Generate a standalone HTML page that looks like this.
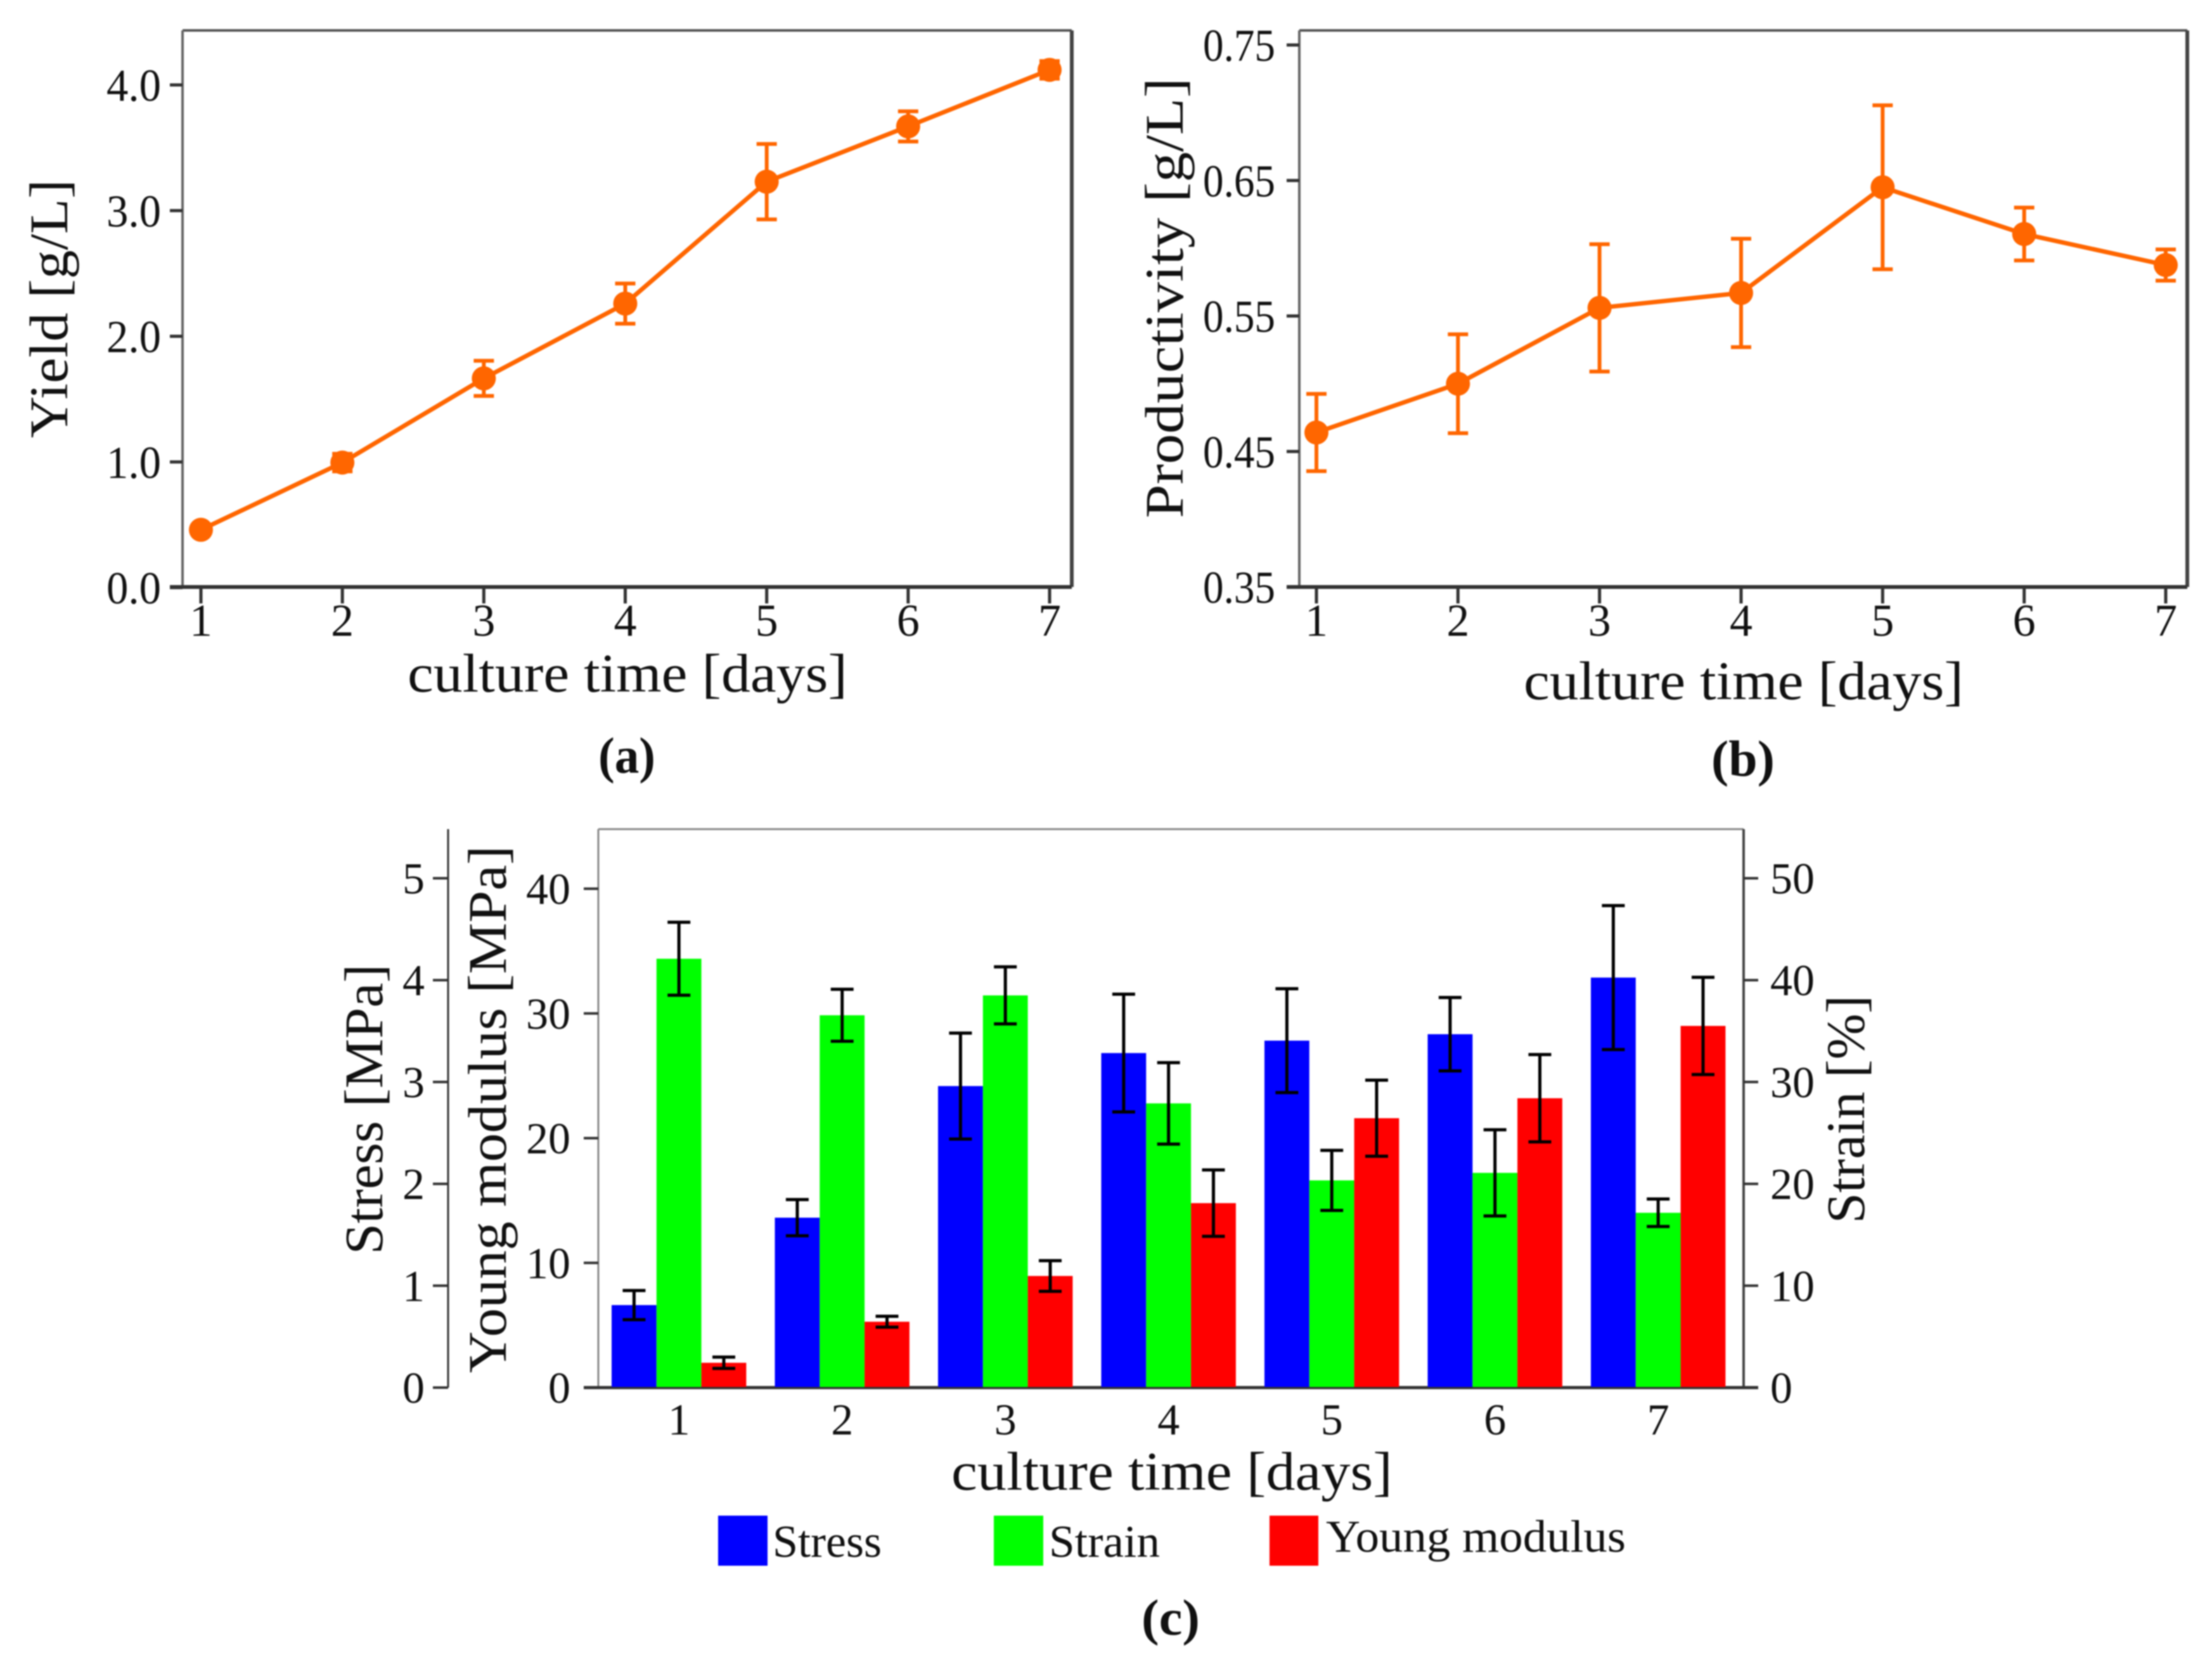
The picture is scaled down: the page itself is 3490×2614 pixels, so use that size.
<!DOCTYPE html>
<html lang="en">
<head>
<meta charset="utf-8">
<title>Culture time charts</title>
<style>
html,body{margin:0;padding:0;background:#fff;}
svg{display:block;filter:blur(1px);}
text{font-family:"Liberation Serif",serif;fill:#111;}
</style>
</head>
<body>
<svg id="figure" xmlns="http://www.w3.org/2000/svg" width="3490" height="2614" viewBox="0 0 3490 2614">
<rect x="0" y="0" width="3490" height="2614" fill="#fff"/>
<g id="panelA"></g>
<g id="panelB"></g>
<g id="panelC"></g>
</svg>
<script>
const days = [1, 2, 3, 4, 5, 6, 7];
const yieldValues = [0.46, 0.995, 1.665, 2.26, 3.23, 3.67, 4.12];
const yieldErrors = [0.03, 0.07, 0.14, 0.16, 0.30, 0.12, 0.07];
const yieldTicks = ["0.0", "1.0", "2.0", "3.0", "4.0"];
const prodValues = [0.464, 0.500, 0.556, 0.567, 0.645, 0.6105, 0.5876];
const prodErrors = [0.0285, 0.0365, 0.047, 0.040, 0.0605, 0.0195, 0.0115];
const prodTicks = ["0.35", "0.45", "0.55", "0.65", "0.75"];
const stressValues = [0.81, 1.668, 2.96, 3.284, 3.406, 3.469, 4.025];
const stressErrors = [0.143, 0.178, 0.52, 0.578, 0.51, 0.36, 0.707];
const strainValues = [42.1, 36.55, 38.5, 27.9, 20.34, 21.08, 17.16];
const strainErrors = [3.58, 2.55, 2.8, 4.0, 2.95, 4.23, 1.35];
const youngValues = [1.99, 5.28, 8.95, 14.79, 21.6, 23.2, 29.0];
const youngErrors = [0.455, 0.435, 1.23, 2.66, 3.05, 3.5, 3.9];
const stressTicks = [0, 1, 2, 3, 4, 5];
const youngTicks = [0, 10, 20, 30, 40];
const strainTicks = [0, 10, 20, 30, 40, 50];

const NS = "http://www.w3.org/2000/svg";
function mk(parent, tag, attrs, txt) {
  const el = document.createElementNS(NS, tag);
  for (const k in attrs) el.setAttribute(k, attrs[k]);
  if (txt !== undefined) el.textContent = txt;
  parent.appendChild(el);
  return el;
}
function label(parent, name, x, y, size, txt, len, rot, anchor, weight) {
  const a = {x: x, y: y, "font-size": size, "text-anchor": anchor || "middle"};
  if (len) { a.textLength = len; a.lengthAdjust = "spacingAndGlyphs"; }
  if (rot) a.transform = "rotate(-90 " + x + " " + y + ")";
  if (weight) a["font-weight"] = weight;
  const el = mk(parent, "text", a, txt);
  
  
  return el;
}
function line(parent, name, x1, y1, x2, y2, color, w) {
  const el = mk(parent, "line", {x1: x1, y1: y1, x2: x2, y2: y2, stroke: color, "stroke-width": w});
  
  
  return el;
}

function linePanel(g, c) {
  const xS = d => c.x1 + (d - 1) * (c.x7 - c.x1) / 6;
  const yS = v => c.y0 + (v - c.vMin) * (c.yTop - c.y0) / (c.vTop - c.vMin);
  line(g, "frame-top", c.left, c.top, c.right, c.top, "#555", 4);
  line(g, "frame-left", c.left, c.top, c.left, c.bottom, "#666", 4);
  line(g, "frame-right", c.right, c.top, c.right, c.bottom, "#444", 6);
  line(g, "x-axis-line", c.left - 20, c.bottom, c.right, c.bottom, "#333", 6);
  c.ticks.forEach(t => {
    const y = yS(parseFloat(t));
    line(g, "y-tick", c.left - 20, y, c.left, y, "#333", 5);
    label(g, "y-tick-label", c.left - 34 + c.tickShift, y + 25, 72, t, c.tickLen, false, "end");
  });
  days.forEach(d => {
    line(g, "x-tick", xS(d), c.bottom, xS(d), c.bottom + 26, "#333", 5);
    label(g, "x-tick-label", xS(d), 1003, 72, String(d));
  });
  const pts = days.map((d, i) => xS(d) + "," + yS(c.values[i])).join(" ");
  const pl = mk(g, "polyline", {points: pts, fill: "none", stroke: "#ff6600", "stroke-width": 7, "stroke-linejoin": "round"});
  
  
  days.forEach((d, i) => {
    const x = xS(d), hi = yS(c.values[i] + c.errors[i]), lo = yS(c.values[i] - c.errors[i]);
    line(g, "error-bar", x, hi, x, lo, "#ff6600", 6);
    line(g, "error-cap-top", x - 16, hi, x + 16, hi, "#ff6600", 6);
    line(g, "error-cap-bottom", x - 16, lo, x + 16, lo, "#ff6600", 6);
    const p = mk(g, "ellipse", {cx: x, cy: yS(c.values[i]), rx: 19, ry: 19, fill: "#ff6600"});
    
    
  });
  label(g, "y-axis-title", c.titleX, c.titleY, 86, c.title, c.titleLen, true);
  label(g, "x-axis-title", c.xTitleX, c.xTitleY, 86, "culture time [days]", 694);
  label(g, "panel-label", c.capX, c.capY, 80, c.cap, c.capLen, false, "middle", "bold");
}

linePanel(document.getElementById("panelA"), {
  left: 288, right: 1691, top: 48, bottom: 926,
  x1: 317, x7: 1656, y0: 927, yTop: 134, vMin: 0, vTop: 4,
  ticks: yieldTicks, values: yieldValues, errors: yieldErrors, tickShift: 0, tickLen: 86,
  title: "Yield [g/L]", titleX: 106, titleY: 487, titleLen: 408,
  xTitleX: 990, xTitleY: 1091, cap: "(a)", capLen: 90, capX: 989, capY: 1219
});
linePanel(document.getElementById("panelB"), {
  left: 2050, right: 3451, top: 48, bottom: 926,
  x1: 2077, x7: 3417, y0: 926, yTop: 71, vMin: 0.35, vTop: 0.75,
  ticks: prodTicks, values: prodValues, errors: prodErrors, tickShift: -4, tickLen: 114,
  title: "Productivity [g/L]", titleX: 1866, titleY: 470, titleLen: 695,
  xTitleX: 2751, xTitleY: 1103, cap: "(b)", capLen: 100, capX: 2750, capY: 1224
});

(function () {
  const g = document.getElementById("panelC");
  const base = 2189, top = 1308, left = 944, right = 2751, axisX = 707;
  const stressY = v => base - v * (base - 1385.5) / 5;
  const youngY = v => base - v * (base - 1402) / 40;
  const strainY = v => base - v * (base - 1385.5) / 50;
  const groupStart = 965, step = 257.5, barW = 70.8;
  const groupCenter = i => groupStart + i * step + barW * 1.5;

  line(g, "frame-top", left, top, right, top, "#888", 3);
  line(g, "frame-left", left, top, left, base, "#888", 3);
  line(g, "strain-axis-line", right, top, right, base, "#444", 4);
  line(g, "stress-axis-line", axisX, top, axisX, base, "#333", 3);
  line(g, "stress-axis-baseline", axisX - 24, base, axisX, base, "#333", 4);
  line(g, "x-axis-line", 921, base, 2774, base, "#333", 5);

  stressTicks.forEach(t => {
    line(g, "stress-tick", axisX - 24, stressY(t), axisX, stressY(t), "#333", 4);
    label(g, "stress-tick-label", 670, stressY(t) + 24, 70, String(t), null, false, "end");
  });
  youngTicks.forEach(t => {
    line(g, "young-tick", 921, youngY(t), left, youngY(t), "#333", 4);
    label(g, "young-tick-label", 900, youngY(t) + 24, 70, String(t), null, false, "end");
  });
  strainTicks.forEach(t => {
    line(g, "strain-tick", right, strainY(t), 2774, strainY(t), "#333", 4);
    label(g, "strain-tick-label", 2793, strainY(t) + 24, 70, String(t), null, false, "start");
  });

  const series = [
    {key: "stress", color: "#0000ff", vals: stressValues, errs: stressErrors, y: stressY},
    {key: "strain", color: "#00ff00", vals: strainValues, errs: strainErrors, y: strainY},
    {key: "young", color: "#ff0000", vals: youngValues, errs: youngErrors, y: youngY}
  ];
  series.forEach((s, si) => {
    days.forEach((d, i) => {
      const x = groupStart + i * step + si * barW;
      const yTop = s.y(s.vals[i]);
      const r = mk(g, "rect", {x: x, y: yTop, width: barW, height: base - yTop - 1, fill: s.color});
      
      
    });
  });
  series.forEach((s, si) => {
    days.forEach((d, i) => {
      const x = groupStart + i * step + si * barW + barW / 2;
      const hi = s.y(s.vals[i] + s.errs[i]), lo = s.y(s.vals[i] - s.errs[i]);
      line(g, "error-bar", x, hi, x, lo, "#000", 5);
      line(g, "error-cap-top", x - 18, hi, x + 18, hi, "#000", 5);
      line(g, "error-cap-bottom", x - 18, lo, x + 18, lo, "#000", 5);
    });
  });
  days.forEach((d, i) => {
    label(g, "x-tick-label", groupCenter(i), 2263, 70, String(d));
  });

  label(g, "stress-axis-title", 603, 1750, 86, "Stress [MPa]", 458, true);
  label(g, "young-axis-title", 798, 1750, 86, "Young modulus [MPa]", 832, true);
  label(g, "strain-axis-title", 2941, 1750, 86, "Strain [%]", 360, true);
  label(g, "x-axis-title", 1849, 2350, 86, "culture time [days]", 696);

  const s1 = mk(g, "rect", {x: 1133, y: 2391, width: 78, height: 79, fill: "#0000ff"});
  
  
  const s2 = mk(g, "rect", {x: 1568, y: 2391, width: 78, height: 79, fill: "#00ff00"});
  
  
  const s3 = mk(g, "rect", {x: 2003, y: 2391, width: 77, height: 79, fill: "#ff0000"});
  
  
  label(g, "legend-label-stress", 1219, 2456, 72, "Stress", 172, false, "start");
  label(g, "legend-label-strain", 1655, 2456, 72, "Strain", 175, false, "start");
  label(g, "legend-label-young", 2092, 2448, 72, "Young modulus", 473, false, "start");
  label(g, "panel-label", 1847, 2579, 80, "(c)", 92, false, "middle", "bold");
})();
</script>
</body>
</html>
